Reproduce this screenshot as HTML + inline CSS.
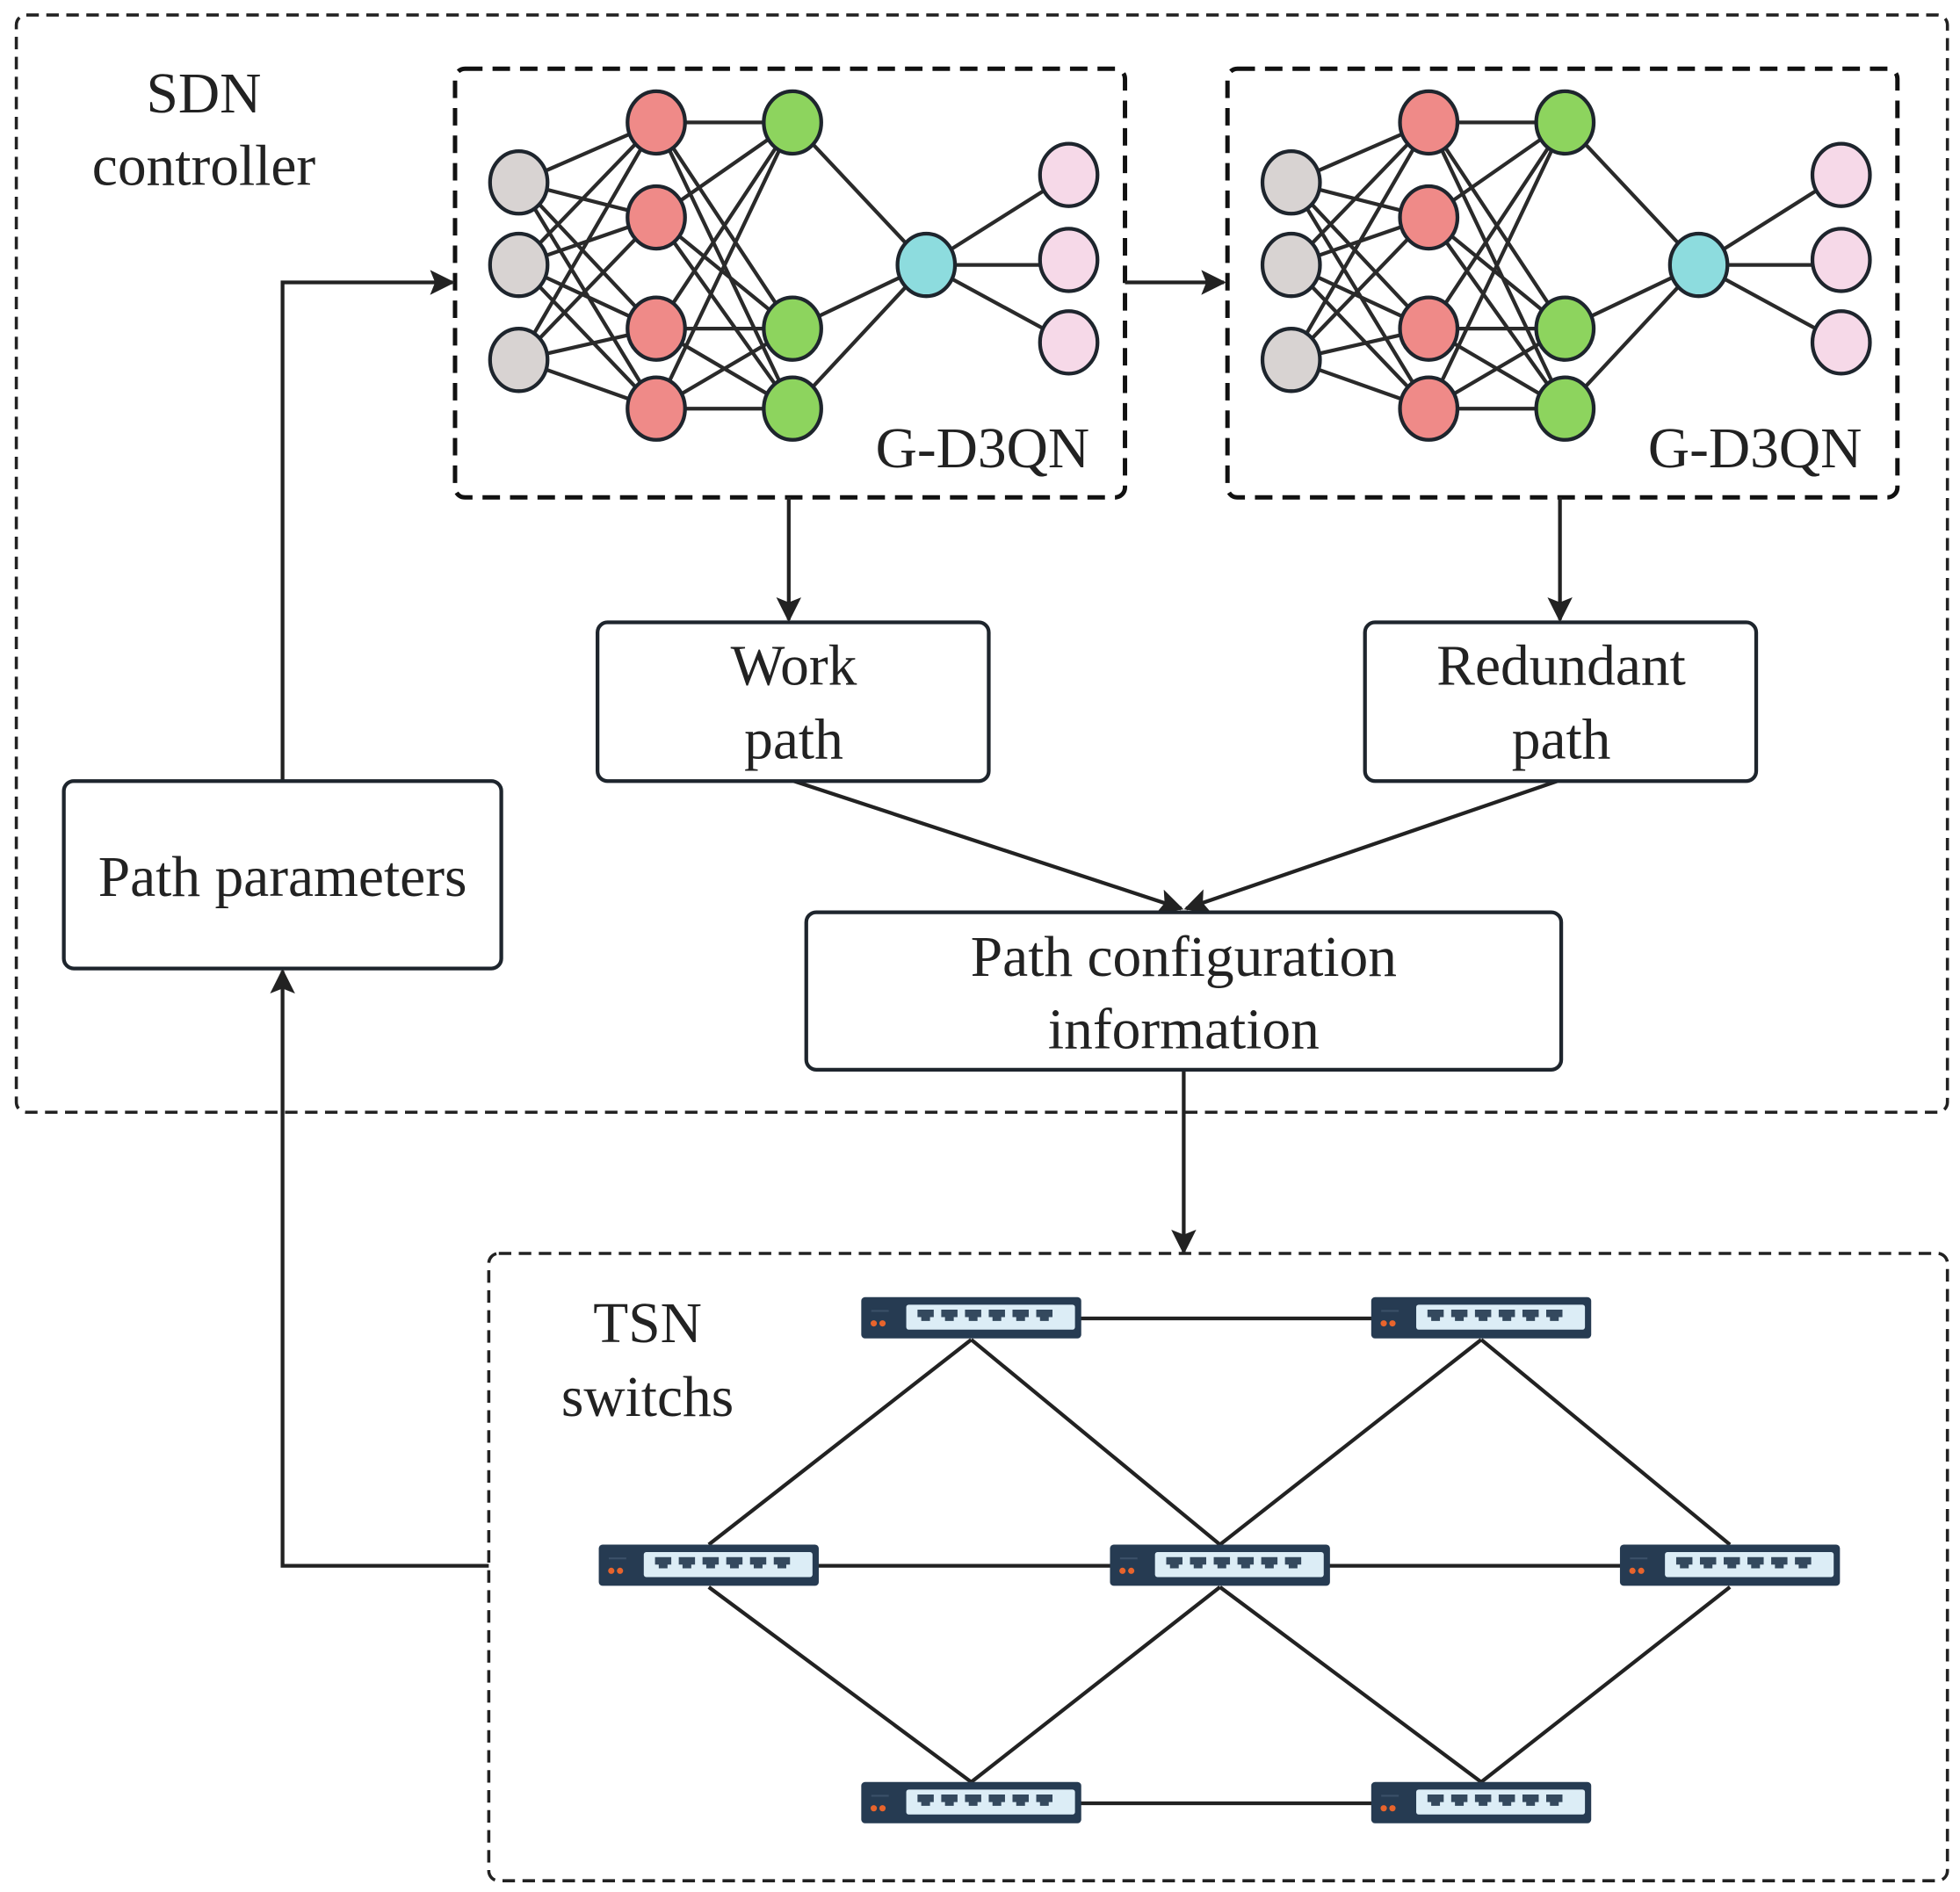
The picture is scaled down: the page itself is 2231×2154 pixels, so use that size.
<!DOCTYPE html>
<html><head><meta charset="utf-8"><style>
html,body{margin:0;padding:0;background:#fff;}
svg{display:block}
text{font-family:"Liberation Serif",serif;fill:#222;}
</style></head><body>
<svg width="2231" height="2154" viewBox="0 0 1568 1514" xmlns="http://www.w3.org/2000/svg">
<defs>
<marker id="ab" viewBox="0 0 10 10" refX="9" refY="5" markerWidth="24" markerHeight="20" markerUnits="userSpaceOnUse" orient="auto"><path d="M0,0 L10,5 L0,10 L2,5 z" fill="#222"/></marker>
<g id="net">
<g stroke="#2a2a2a" stroke-width="3">
<path d="M415 146L525 98M415 146L525 174M415 146L525 263M415 146L525 327M415 212L525 98M415 212L525 174M415 212L525 263M415 212L525 327M415 288L525 98M415 288L525 174M415 288L525 263M415 288L525 327"/>
<path d="M525 98L634 98M525 98L634 263M525 98L634 327M525 174L634 98M525 174L634 263M525 174L634 327M525 263L634 98M525 263L634 263M525 263L634 327M525 327L634 98M525 327L634 263M525 327L634 327"/>
<path d="M634 98L741 212M634 263L741 212M634 327L741 212M741 212L855 140M741 212L855 212M741 212L855 274"/>
</g>
<g stroke="#1e252d" stroke-width="3">
<ellipse cx="415" cy="146" rx="23" ry="25" fill="#d8d3d2"/><ellipse cx="415" cy="212" rx="23" ry="25" fill="#d8d3d2"/><ellipse cx="415" cy="288" rx="23" ry="25" fill="#d8d3d2"/>
<ellipse cx="525" cy="98" rx="23" ry="25" fill="#ef8a88"/><ellipse cx="525" cy="174" rx="23" ry="25" fill="#ef8a88"/><ellipse cx="525" cy="263" rx="23" ry="25" fill="#ef8a88"/><ellipse cx="525" cy="327" rx="23" ry="25" fill="#ef8a88"/>
<ellipse cx="634" cy="98" rx="23" ry="25" fill="#8dd45e"/><ellipse cx="634" cy="263" rx="23" ry="25" fill="#8dd45e"/><ellipse cx="634" cy="327" rx="23" ry="25" fill="#8dd45e"/>
<ellipse cx="741" cy="212" rx="23" ry="25" fill="#8ddcde"/>
<ellipse cx="855" cy="140" rx="23" ry="25" fill="#f6d9e8"/><ellipse cx="855" cy="208" rx="23" ry="25" fill="#f6d9e8"/><ellipse cx="855" cy="274" rx="23" ry="25" fill="#f6d9e8"/>
</g>
<rect x="364" y="55" width="536" height="343" rx="8" fill="none" stroke="#111" stroke-width="3.5" stroke-dasharray="14 8"/>
<text x="786" y="374" font-size="46" text-anchor="middle">G-D3QN</text>
</g>
<g id="sw">
<rect x="-88" y="-17" width="176" height="33" rx="3" fill="#263b52"/>
<rect x="-52" y="-11" width="135" height="20" rx="2" fill="#dcedf6"/>
<g fill="#34495e">
<path d="M-43 -7h13v6h-3v3h-7v-3h-3z"/><path d="M-24 -7h13v6h-3v3h-7v-3h-3z"/><path d="M-5 -7h13v6h-3v3h-7v-3h-3z"/><path d="M14 -7h13v6h-3v3h-7v-3h-3z"/><path d="M33 -7h13v6h-3v3h-7v-3h-3z"/><path d="M52 -7h13v6h-3v3h-7v-3h-3z"/>
</g>
<circle cx="-78" cy="4" r="2.5" fill="#e8642c"/><circle cx="-71" cy="4" r="2.5" fill="#e8642c"/>
<path d="M-80 -6h14" stroke="#3b5068" stroke-width="1.5"/>
</g>
</defs>

<rect x="13" y="12" width="1545" height="878" rx="8" fill="none" stroke="#222" stroke-width="2.5" stroke-dasharray="10 6"/>
<text x="163" y="90" font-size="46" text-anchor="middle">SDN</text>
<text x="163" y="148" font-size="46" text-anchor="middle">controller</text>

<use href="#net"/>
<use href="#net" x="618"/>

<g stroke="#222" stroke-width="3" fill="none">
<path d="M900 226H979" marker-end="url(#ab)"/>
<path d="M226 625V226H362" marker-end="url(#ab)"/>
<path d="M631 398V496" marker-end="url(#ab)"/>
<path d="M1248 398V496" marker-end="url(#ab)"/>
<path d="M635 625L945 727" marker-end="url(#ab)"/>
<path d="M1246 625L949 727" marker-end="url(#ab)"/>
<path d="M947 856V1002" marker-end="url(#ab)"/>
<path d="M391 1253H226V777" marker-end="url(#ab)"/>
</g>

<g fill="#fff" stroke="#1e252d" stroke-width="3">
<rect x="478" y="498" width="313" height="127" rx="8"/>
<rect x="1092" y="498" width="313" height="127" rx="8"/>
<rect x="645" y="730" width="604" height="126" rx="8"/>
<rect x="51" y="625" width="350" height="150" rx="8"/>
</g>
<g font-size="46" text-anchor="middle">
<text x="635" y="548">Work</text><text x="635" y="607">path</text>
<text x="1249" y="548">Redundant</text><text x="1249" y="607">path</text>
<text x="947" y="781">Path configuration</text><text x="947" y="839">information</text>
<text x="226" y="717">Path parameters</text>
</g>

<rect x="391" y="1003" width="1167" height="502" rx="8" fill="none" stroke="#222" stroke-width="2.5" stroke-dasharray="10 6"/>
<text x="518" y="1074" font-size="46" text-anchor="middle">TSN</text>
<text x="518" y="1133" font-size="46" text-anchor="middle">switchs</text>

<g stroke="#222" stroke-width="3">
<path d="M777 1055H1185M567 1253H1384M777 1443H1185"/>
<path d="M777 1072L567 1236M777 1072L976 1236M1185 1072L976 1236M1185 1072L1384 1236"/>
<path d="M567 1270L777 1426M976 1270L777 1426M976 1270L1185 1426M1384 1270L1185 1426"/>
</g>
<use href="#sw" x="777" y="1055"/><use href="#sw" x="1185" y="1055"/>
<use href="#sw" x="567" y="1253"/><use href="#sw" x="976" y="1253"/><use href="#sw" x="1384" y="1253"/>
<use href="#sw" x="777" y="1443"/><use href="#sw" x="1185" y="1443"/>
</svg>
</body></html>
